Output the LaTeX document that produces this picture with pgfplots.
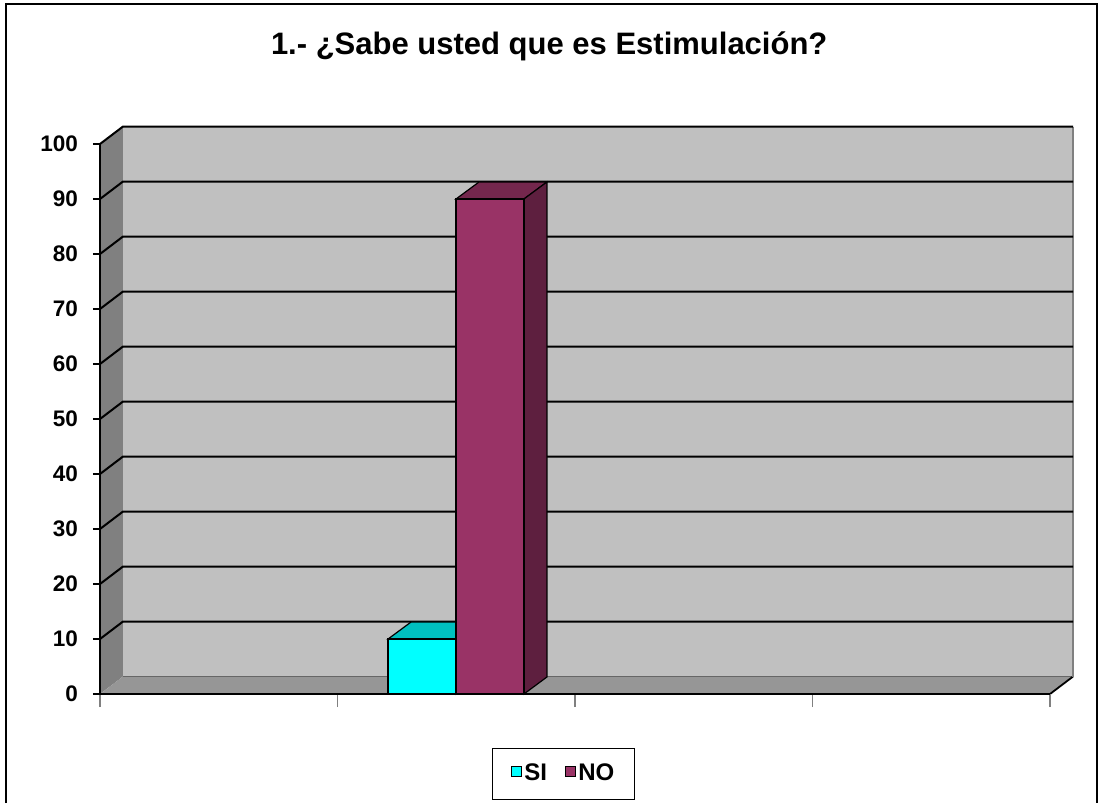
\documentclass[border=0pt]{standalone}
\usepackage{pgfplots}
\pgfplotsset{compat=1.18}
\usepackage{fontspec}
\setmainfont{Liberation Sans}
\definecolor{siface}{HTML}{00FFFF}
\definecolor{sitop}{HTML}{00C0C0}
\definecolor{siside}{HTML}{009999}
\definecolor{noface}{HTML}{993366}
\definecolor{notop}{HTML}{74274D}
\definecolor{noside}{HTML}{5E1F3F}
\definecolor{backwall}{HTML}{C0C0C0}
\definecolor{sidewall}{HTML}{808080}
\definecolor{floorc}{HTML}{969696}
\begin{document}
\begin{tikzpicture}
\path[use as bounding box] (0,0) rectangle (550.5pt,401.5pt);
\draw[line width=1.2pt] (3pt,0) -- (3pt,399.5pt) -- (548.5pt,399.5pt) -- (548.5pt,0);
\node[anchor=base, font=\bfseries\fontsize{15.5}{18}\selectfont, inner sep=0] at (274.6pt,374pt) {1.- ¿Sabe usted que es Estimulación?};
\begin{axis}[
  at={(50pt,54.5pt)}, anchor=south west,
  scale only axis, width=475pt, height=275pt,
  xmin=0, xmax=4, ymin=0, ymax=100,
  clip=false, axis on top,
  axis x line=bottom, axis y line=left,
  axis line style={-, black, line width=0.9pt},
  xtick={0,1,2,3,4}, xticklabels={},
  ytick={0,10,...,100},
  tick align=outside, major tick length=3.5pt,
  ytick style={black, line width=0.8pt},
  xtick style={gray, line width=0.8pt, /pgfplots/major tick length=6.5pt},
  yticklabel style={font=\bfseries\fontsize{11.25}{13}\selectfont, xshift=-4pt},
  /pgf/number format/assume math mode=true,
  legend style={at={(0.488,-0.1455)}, anchor=center, legend columns=2,
    draw=black, line width=0.5pt,
    font=\bfseries\fontsize{12}{14}\selectfont,
    inner xsep=9pt, inner ysep=6pt,
    nodes={inner xsep=1pt},
    /tikz/every even column/.append style={column sep=8pt}},
  legend image code/.code={\path[draw=none, fill=none] (0.5pt,-3.6pt) -- (0.5pt,2.4pt);\draw[#1, draw=black, line width=0.7pt] (0pt,-1.2pt) rectangle (5pt,3.8pt);},
]
% walls and floor
\fill[sidewall] (axis cs:0,0) -- (axis cs:0.097,3.18) -- (axis cs:0.097,103.18) -- (axis cs:0,100) -- cycle;
\fill[backwall] (axis cs:0.097,3.18) rectangle (axis cs:4.097,103.18);
\fill[floorc] (axis cs:0,0) -- (axis cs:4,0) -- (axis cs:4.097,3.18) -- (axis cs:0.097,3.18) -- cycle;
\draw[black!60, line width=0.5pt] (axis cs:0.097,3.18) -- (axis cs:4.097,3.18);
\draw[black, line width=0.9pt] (axis cs:4,0) -- (axis cs:4.097,3.18);
\draw[sidewall, line width=0.8pt] (axis cs:4.097,3.18) -- (axis cs:4.097,103.18);
\pgfplotsinvokeforeach{10,20,...,100}{\draw[black, line width=1pt] (axis cs:0,#1) -- (axis cs:0.097,#1+3.18) -- (axis cs:4.097,#1+3.18);}
% SI bar (value 10)
\addplot[forget plot, fill=siside, draw=black, line width=0.6pt] coordinates {(1.499,0) (1.596,3.1) (1.596,13.1) (1.499,10)} -- cycle;
\addplot[forget plot, fill=sitop, draw=black, line width=0.6pt] coordinates {(1.213,10) (1.310,13.1) (1.596,13.1) (1.499,10)} -- cycle;
\addplot[fill=siface, draw=black, line width=0.6pt] coordinates {(1.213,0) (1.213,10) (1.499,10) (1.499,0)} -- cycle;
\addlegendentry{SI}
% NO bar (value 90)
\addplot[forget plot, fill=notop, draw=black, line width=0.6pt] coordinates {(1.499,90) (1.596,93.1) (1.882,93.1) (1.785,90)} -- cycle;
\addplot[forget plot, fill=noside, draw=black, line width=0.6pt] coordinates {(1.785,0) (1.882,3.1) (1.882,93.1) (1.785,90)} -- cycle;
\addplot[fill=noface, draw=black, line width=0.6pt] coordinates {(1.499,0) (1.499,90) (1.785,90) (1.785,0)} -- cycle;
\addlegendentry{NO}
\end{axis}
\end{tikzpicture}
\end{document}
